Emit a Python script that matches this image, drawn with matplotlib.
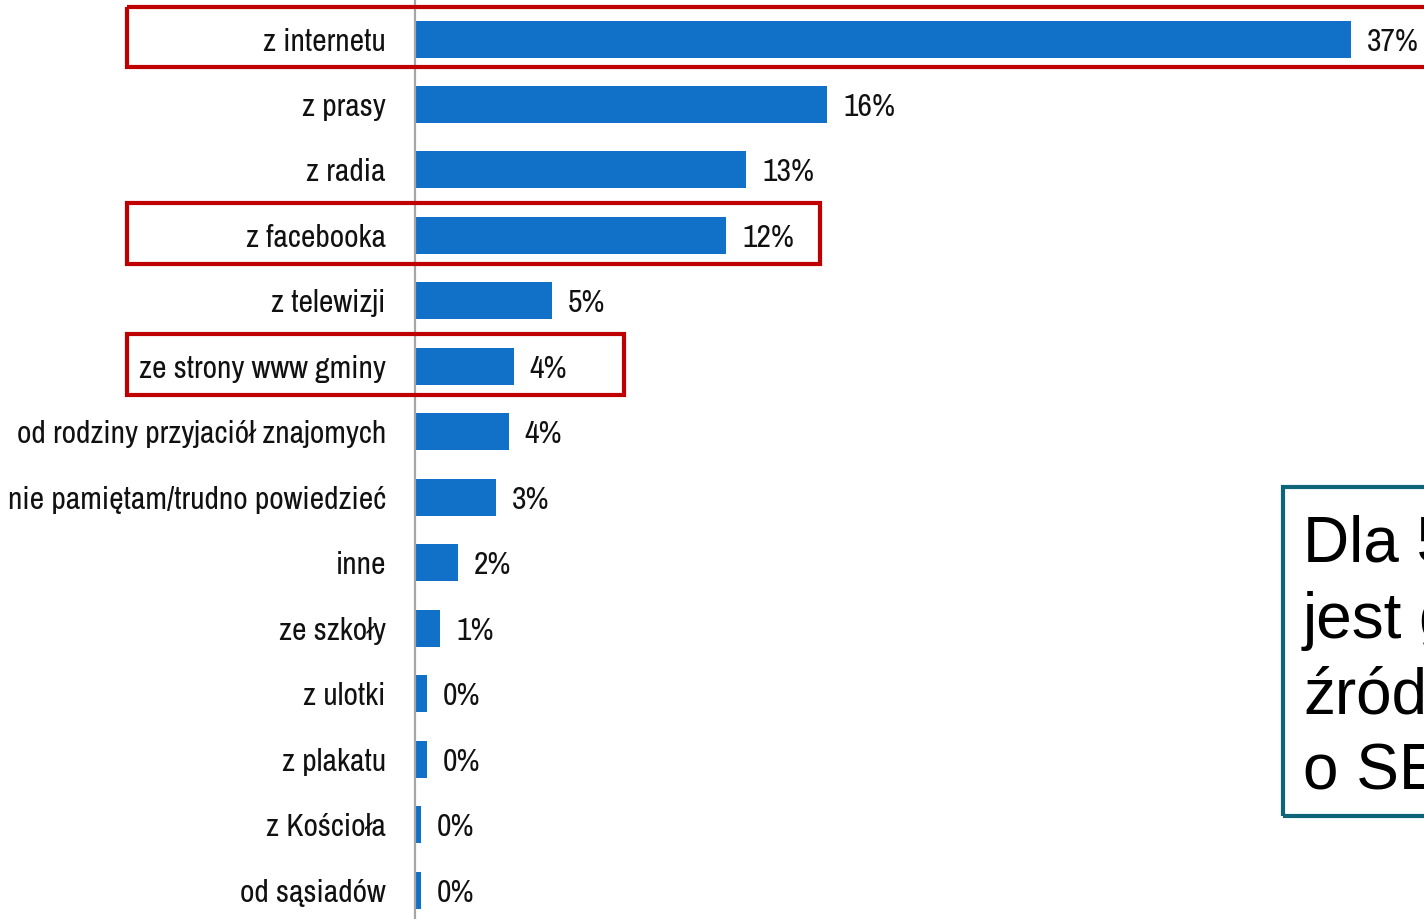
import matplotlib
matplotlib.use("Agg")
import matplotlib.pyplot as plt
from matplotlib.patches import Rectangle
from matplotlib import font_manager

# Survey answers: where respondents learned about it (percent)
categories = [
    "z internetu", "z prasy", "z radia", "z facebooka", "z telewizji",
    "ze strony www gminy", "od rodziny przyjaciół znajomych",
    "nie pamiętam/trudno powiedzieć", "inne", "ze szkoły", "z ulotki",
    "z plakatu", "z Kościoła", "od sąsiadów",
]
values = [37.0, 16.3, 13.1, 12.3, 5.4, 3.9, 3.7, 3.2, 1.7, 1.0, 0.47, 0.47, 0.24, 0.24]

# Rows outlined in red, with the x value (in %) where each outline ends
highlight_rows = [0, 3, 5]
highlight_ends = [45.0, 16.0, 8.25]

callout_lines = ["Dla 5", "jest g", "źród", "o SE"]

available = {f.name for f in font_manager.fontManager.ttflist}
narrow = "Archivo Narrow" if "Archivo Narrow" in available else "DejaVu Sans"
plt.rcParams["font.family"] = [narrow, "DejaVu Sans"]

BAR = "#1170C8"
RED = "#C00000"
TEAL = "#0E6478"

W, H = 1424, 919
fig = plt.figure(figsize=(W / 100, H / 100), dpi=100)
fig.patch.set_facecolor("white")

ax_left = 415 / W
ax = fig.add_axes([ax_left, 0, 1 - ax_left, 1])

n = len(categories)
rows = list(range(n))
ax.barh(rows, values, height=0.565, color=BAR, zorder=2)

ax.set_xlim(0, 39.88)
ax.set_ylim(13.44, -0.596)

ax.set_yticks(rows)
ax.set_yticklabels(categories, fontsize=22.8, color="#111111")
ax.tick_params(axis="y", length=0, pad=21)
ax.set_xticks([])

for s in ("top", "right", "bottom"):
    ax.spines[s].set_visible(False)
ax.spines["left"].set_color("#A6A6A6")
ax.spines["left"].set_linewidth(1.6)
ax.spines["left"].set_zorder(3)

for r, v in zip(rows, values):
    ax.annotate(f"{round(v):d}%", xy=(v, r), xytext=(11.5, 0),
                textcoords="offset points", va="center_baseline", ha="left",
                fontsize=22.8, color="#111111")

# Red outlines around selected rows, starting left of the category labels
box_left_fig = 127 / W
left_data = ax.transData.inverted().transform(
    fig.transFigure.transform((box_left_fig, 0)))[0]
for r, end in zip(highlight_rows, highlight_ends):
    ax.add_patch(Rectangle((left_data, r - 0.49), end - left_data, 0.92,
                           fill=False, edgecolor=RED, linewidth=3.0,
                           clip_on=False, zorder=4))

# Callout box on the right
fig.patches.append(Rectangle((1283 / W, 1 - 816 / H), 0.2, (816 - 487) / H,
                             transform=fig.transFigure, fill=False,
                             edgecolor=TEAL, linewidth=3.0, zorder=5))
for i, line in enumerate(callout_lines):
    fig.text(1303 / W, 1 - (562 + i * 76) / H, line, fontsize=46,
             family=["Liberation Sans", "DejaVu Sans"], color="black",
             ha="left", va="baseline")

fig.savefig("out.png", dpi=100, facecolor="white")
